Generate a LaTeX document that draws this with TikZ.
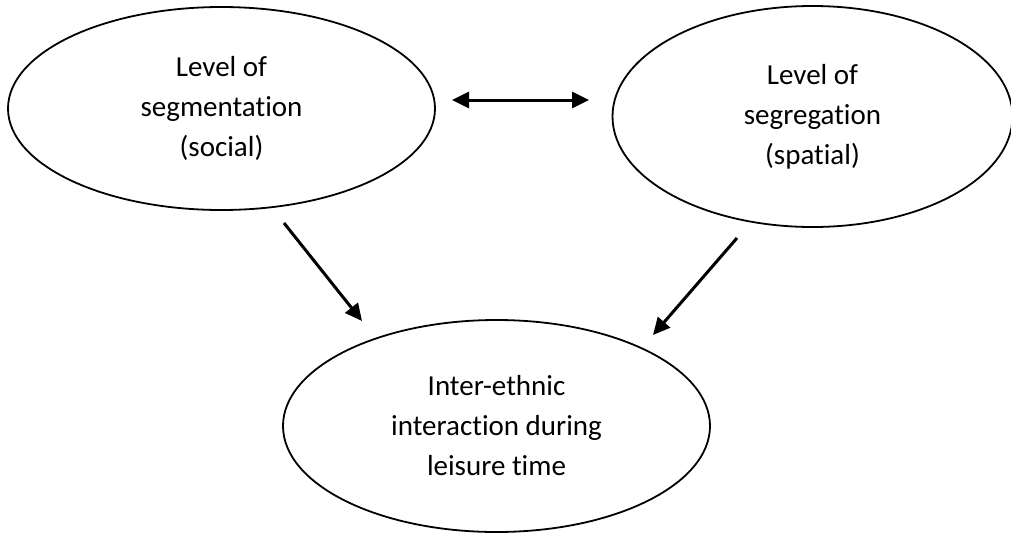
\documentclass[tikz,border=0pt]{standalone}
\usepackage{fontspec}
\setmainfont{Carlito}[RawFeature={-liga}]
\usetikzlibrary{shapes.geometric,arrows.meta}
\begin{document}
\begin{tikzpicture}[x=1pt,y=-1pt,
  oval/.style={draw,line width=1.8pt,ellipse,inner sep=0pt,align=center,
    font=\fontsize{29}{40}\selectfont},
  conn/.style={line width=3pt,-{Triangle[length=17pt,width=16pt]}},
  biconn/.style={line width=3pt,{Triangle[length=17pt,width=16pt]}-{Triangle[length=17pt,width=16pt]}}]
\useasboundingbox (0,0) rectangle (1011,536);
\node[oval,minimum width=427pt,minimum height=203pt] (seg) at (221.5,108.5) {Level of\\segmentation\\(social)};
\node[oval,minimum width=400pt,minimum height=221pt] (segr) at (812.5,116.5) {Level of\\segregation\\(spatial)};
\node[oval,minimum width=427pt,minimum height=212pt] (inter) at (496.5,426) {Inter-ethnic\\interaction during\\leisure time};
\coordinate (a1) at (452,100);
\coordinate (a2) at (589,100);
\coordinate (l1) at (284,223);
\coordinate (l2) at (362,321);
\coordinate (r1) at (737,238);
\coordinate (r2) at (653,335);
\draw[biconn] (a1) -- (a2);
\draw[conn] (l1) -- (l2);
\draw[conn] (r1) -- (r2);
\end{tikzpicture}
\end{document}
